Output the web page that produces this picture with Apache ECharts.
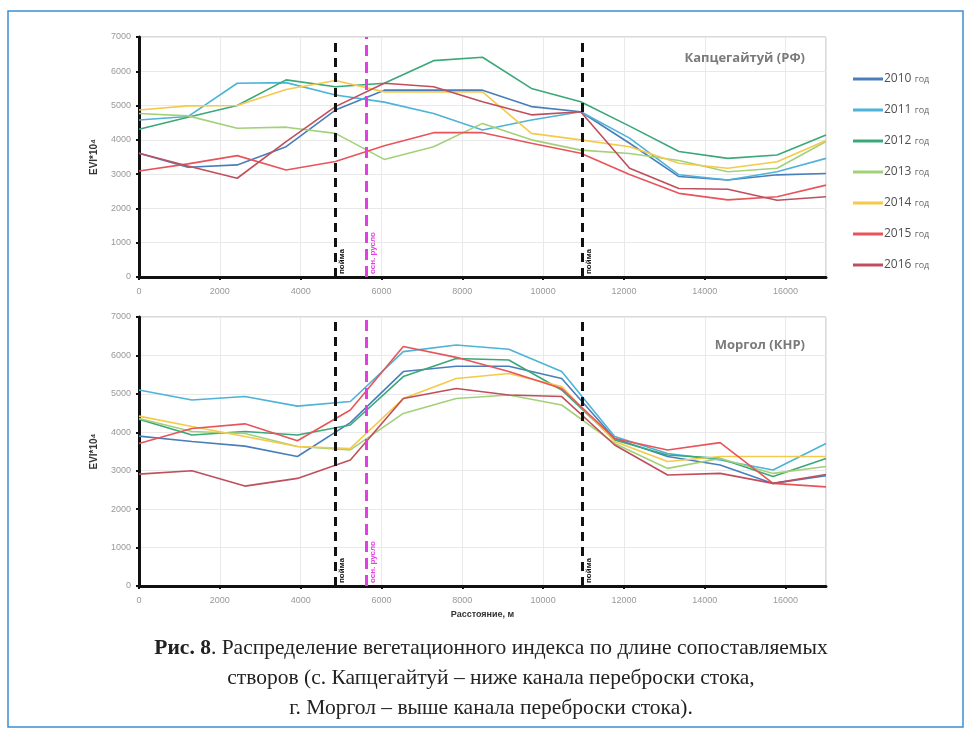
<!DOCTYPE html>
<html>
<head>
<meta charset="utf-8">
<script src="https://cdn.jsdelivr.net/npm/echarts@6/dist/echarts.min.js"></script>
<style>
  html, body { margin: 0; background: #fff; }
  #chart { width: 972px; height: 736px; }
</style>
</head>
<body>
<div id="chart"></div>
<script>
// годы и цвета линий
const years = ["2010 год", "2011 год", "2012 год", "2013 год", "2014 год", "2015 год", "2016 год"];
const colors = ["#4a7ebb", "#4db3d8", "#3aa878", "#a3d17a", "#f5c94a", "#e8545a", "#bf4f5c"];

// расстояние по створу, м
const distKap = [0, 1210, 2430, 3640, 4860, 6070, 7290, 8500, 9710, 10930, 12140, 13360, 14570, 15790, 17000];
const distMor = [0, 1310, 2620, 3920, 5230, 6540, 7850, 9150, 10460, 11770, 13080, 14380, 15690, 17000];

// Капцегайтуй (РФ), EVI*10^4
const kap2010 = [3610, 3200, 3270, 3800, 4870, 5450, 5450, 5450, 4970, 4820, 3900, 2930, 2830, 2980, 3020];
const kap2011 = [4580, 4680, 5650, 5670, 5310, 5100, 4770, 4290, 4580, 4820, 4050, 2980, 2830, 3070, 3460];
const kap2012 = [4310, 4660, 5000, 5750, 5550, 5650, 6310, 6410, 5500, 5110, 4400, 3660, 3460, 3560, 4140];
const kap2013 = [4770, 4700, 4340, 4370, 4190, 3430, 3800, 4480, 4000, 3700, 3600, 3400, 3070, 3170, 3950];
const kap2014 = [4870, 4990, 5000, 5470, 5730, 5400, 5400, 5400, 4190, 4000, 3800, 3320, 3170, 3360, 3980];
const kap2015 = [3090, 3300, 3540, 3120, 3370, 3830, 4210, 4210, 3900, 3610, 2990, 2440, 2250, 2340, 2680];
const kap2016 = [3610, 3240, 2880, 3950, 4970, 5650, 5550, 5110, 4730, 4820, 3170, 2580, 2560, 2240, 2340];

// Моргол (КНР)
const mor2010 = [3900, 3760, 3640, 3370, 4250, 5580, 5720, 5720, 5400, 3840, 3370, 3150, 2670, 2870];
const mor2011 = [5100, 4840, 4930, 4680, 4800, 6100, 6270, 6160, 5580, 3890, 3450, 3280, 3020, 3710];
const mor2012 = [4340, 3930, 4020, 3930, 4190, 5450, 5920, 5880, 5100, 3800, 3410, 3320, 2850, 3320];
const mor2013 = [4360, 4020, 3970, 3630, 3540, 4490, 4880, 4970, 4710, 3710, 3060, 3320, 2930, 3110];
const mor2014 = [4420, 4150, 3890, 3630, 3580, 4880, 5400, 5530, 5190, 3760, 3240, 3370, 3370, 3370];
const mor2015 = [3710, 4100, 4220, 3780, 4580, 6230, 5950, 5580, 5140, 3840, 3540, 3730, 2670, 2580];
const mor2016 = [2910, 3000, 2600, 2800, 3280, 4880, 5140, 4970, 4930, 3670, 2890, 2930, 2670, 2900];

// границы поймы и основное русло
const floodplain = [4850, 10960];
const riverbed = 5620;

const kapAll = [kap2010, kap2011, kap2012, kap2013, kap2014, kap2015, kap2016];
const morAll = [mor2010, mor2011, mor2012, mor2013, mor2014, mor2015, mor2016];

const chart = echarts.init(document.getElementById("chart"));

function verticalLines() {
  const black = { color: "#111", width: 3, type: [9, 6] };
  return {
    silent: true,
    animation: false,
    symbol: ["none", "none"],
    label: { show: true, position: "insideStartBottom", fontSize: 8, fontWeight: "bold", distance: 3 },
    data: [
      { xAxis: floodplain[0], lineStyle: black, label: { formatter: "пойма", color: "#111" } },
      { xAxis: riverbed, lineStyle: { color: "#e23fe2", width: 3, type: [11, 6] }, label: { formatter: "осн. русло", color: "#e23fe2" } },
      { xAxis: floodplain[1], lineStyle: black, label: { formatter: "пойма", color: "#111" } }
    ]
  };
}

function makeSeries(dist, all, gi) {
  return all.map((vals, i) => {
    let s = {
      name: years[i],
      type: "line",
      xAxisIndex: gi,
      yAxisIndex: gi,
      symbol: "none",
      data: dist.map((d, k) => [d, vals[k]]),
      lineStyle: { color: colors[i], width: 1.6 },
      itemStyle: { color: colors[i] },
      z: 3
    };
    if (i === 0) s.markLine = verticalLines();
    return s;
  });
}

function xAxis(gi) {
  return {
    type: "value",
    gridIndex: gi,
    min: 0,
    max: 17000,
    interval: 2000,
    name: gi === 1 ? "Расстояние, м" : "",
    nameLocation: "middle",
    nameGap: 24,
    nameTextStyle: { fontSize: 9, fontWeight: "bold", color: "#333" },
    axisLine: { onZero: false, lineStyle: { color: "#111", width: 3 } },
    axisTick: { show: true, length: 3, lineStyle: { color: "#111", width: 2 } },
    axisLabel: { color: "#999", fontSize: 9, margin: 10, showMaxLabel: false, formatter: v => String(v) },
    splitLine: { show: true, lineStyle: { color: "#e9e9e9" } }
  };
}

function yAxis(gi) {
  return {
    type: "value",
    gridIndex: gi,
    min: 0,
    max: 7000,
    interval: 1000,
    name: "EVI*10⁴",
    nameLocation: "middle",
    nameRotate: 90,
    nameGap: 40,
    nameTextStyle: { fontSize: 10, fontWeight: "bold", color: "#333" },
    axisLine: { show: true, lineStyle: { color: "#111", width: 3 } },
    axisTick: { show: true, length: 3, lineStyle: { color: "#111", width: 2 } },
    axisLabel: { color: "#999", fontSize: 9, margin: 8, formatter: v => String(v) },
    splitLine: { show: true, lineStyle: { color: "#e9e9e9" } }
  };
}

const option = {
  backgroundColor: "#fff",
  animation: false,
  title: [
    {
      text: "Капцегайтуй (РФ)",
      right: 162, top: 47,
      textStyle: { fontSize: 13, fontWeight: "bold", color: "#7a7a7a", fontFamily: "Open Sans" }
    },
    {
      text: "Моргол (КНР)",
      right: 162, top: 334,
      textStyle: { fontSize: 13, fontWeight: "bold", color: "#7a7a7a", fontFamily: "Open Sans" }
    },
    {
      text: "{b|Рис. 8}. Распределение вегетационного индекса по длине сопоставляемых\nстворов (с. Капцегайтуй – ниже канала переброски стока,\nг. Моргол – выше канала переброски стока).",
      left: 486, top: 628,
      textAlign: "center",
      textStyle: {
        fontSize: 21.5, fontWeight: "normal", color: "#222", lineHeight: 30,
        fontFamily: "Liberation Serif",
        rich: { b: { fontSize: 21.5, fontWeight: "bold", color: "#222", fontFamily: "Liberation Serif", lineHeight: 30 } }
      }
    }
  ],
  legend: {
    data: years,
    orient: "vertical",
    left: 848, top: 68,
    icon: "rect",
    itemWidth: 30, itemHeight: 3, itemGap: 19,
    formatter: name => {
      const p = name.split(" ");
      return "{y|" + p[0] + "} {g|" + p[1] + "}";
    },
    textStyle: {
      padding: [0, 0, 0, -4],
      rich: {
        y: { fontSize: 12, color: "#505050", fontFamily: "Open Sans" },
        g: { fontSize: 9, color: "#666", fontFamily: "Open Sans" }
      }
    }
  },
  grid: [
    { left: 139, top: 37, width: 687, height: 240, show: true, borderColor: "#b5b5b5", borderWidth: 1 },
    { left: 139, top: 317, width: 687, height: 269, show: true, borderColor: "#b5b5b5", borderWidth: 1 }
  ],
  xAxis: [xAxis(0), xAxis(1)],
  yAxis: [yAxis(0), yAxis(1)],
  series: makeSeries(distKap, kapAll, 0).concat(makeSeries(distMor, morAll, 1)),
  graphic: [
    {
      type: "rect",
      shape: { x: 8, y: 11, width: 955, height: 716 },
      style: { fill: "none", stroke: "#3a8fd4", lineWidth: 1.5 },
      silent: true
    }
  ]
};

chart.setOption(option);
</script>
</body>
</html>
